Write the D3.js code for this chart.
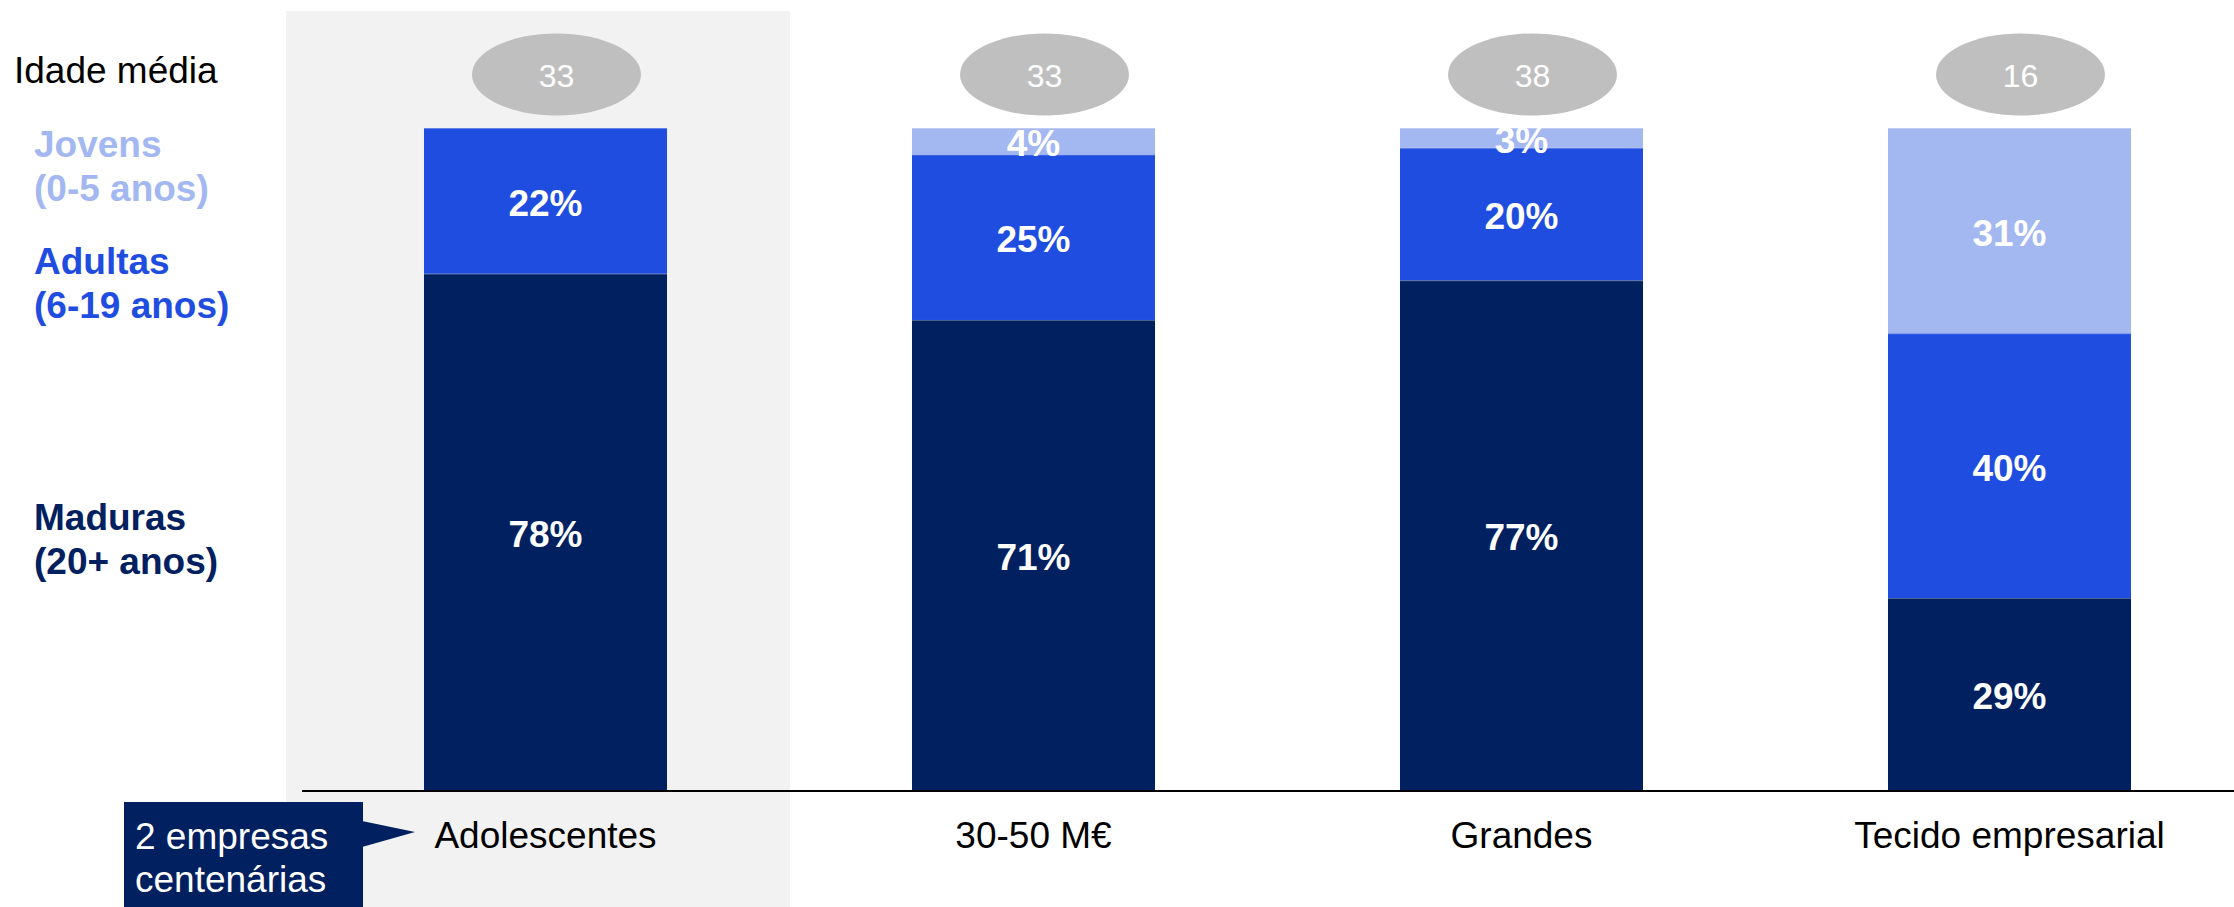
<!DOCTYPE html>
<html>
<head>
<meta charset="utf-8">
<script src="https://cdn.jsdelivr.net/npm/d3@7"></script>
<style>
  html, body { margin: 0; padding: 0; background: #ffffff; }
  svg { display: block; font-family: "Liberation Sans", Arial, sans-serif; }
</style>
</head>
<body>
<svg id="chart" width="2234" height="907"></svg>
<script>
// ---- data ----
const categories = ["Adolescentes", "30-50 M€", "Grandes", "Tecido empresarial"];
const maduras = [78, 71, 77, 29];   // 20+ anos
const adultas = [22, 25, 20, 40];   // 6-19 anos
const jovens  = [0, 4, 3, 31];      // 0-5 anos
const idadeMedia = [33, 33, 38, 16];
const seriesNames = ["Maduras", "Adultas", "Jovens"];
const seriesLabels = [
  ["Maduras", "(20+ anos)"],
  ["Adultas", "(6-19 anos)"],
  ["Jovens", "(0-5 anos)"]
];
const seriesColors = ["#002060", "#1f4ddf", "#a3b7f1"];
const highlightCategory = "Adolescentes";
const calloutLines = ["2 empresas", "centenárias"];
const ageTitle = "Idade média";

// ---- scales ----
const svg = d3.select("#chart");
const W = 2234, H = 907;

const x = d3.scaleBand()
  .domain(categories)
  .range([301.5, 2253.5])
  .paddingInner(0.502)
  .paddingOuter(0.251);

const y = d3.scaleLinear().domain([0, 100]).range([790, 128]);

const rows = categories.map((c, i) => ({
  cat: c, Maduras: maduras[i], Adultas: adultas[i], Jovens: jovens[i]
}));
const stack = d3.stack().keys(seriesNames)(rows);

// ---- highlight panel ----
svg.append("rect")
  .attr("x", x(highlightCategory) - 138)
  .attr("y", 11)
  .attr("width", x.bandwidth() + 138 + 123)
  .attr("height", H - 11)
  .attr("fill", "#f2f2f2");

// ---- bars ----
const layers = svg.append("g").selectAll("g")
  .data(stack)
  .join("g")
  .attr("fill", (d, i) => seriesColors[i]);

layers.selectAll("rect")
  .data(d => d.filter(s => s[1] - s[0] > 0))
  .join("rect")
  .attr("x", d => x(d.data.cat))
  .attr("y", d => y(d[1]))
  .attr("width", x.bandwidth())
  .attr("height", d => y(d[0]) - y(d[1]));

// thin light separators at segment tops
layers.selectAll("line")
  .data(d => d.filter(s => s[1] - s[0] > 0))
  .join("line")
  .attr("x1", d => x(d.data.cat))
  .attr("x2", d => x(d.data.cat) + x.bandwidth())
  .attr("y1", d => y(d[1]) + 0.5)
  .attr("y2", d => y(d[1]) + 0.5)
  .attr("stroke", "#ffffff")
  .attr("stroke-opacity", 0.3)
  .attr("stroke-width", 1);

// value labels
const labelG = svg.append("g");
stack.forEach(layer => {
  layer.filter(s => s[1] - s[0] > 0).forEach(s => {
    labelG.append("text")
      .attr("x", x(s.data.cat) + x.bandwidth() / 2)
      .attr("y", (y(s[0]) + y(s[1])) / 2 + 15)
      .attr("text-anchor", "middle")
      .attr("font-size", 37)
      .attr("font-weight", "bold")
      .attr("fill", "#ffffff")
      .text((s[1] - s[0]) + "%");
  });
});

// ---- axis baseline ----
svg.append("line")
  .attr("x1", 302).attr("x2", W)
  .attr("y1", y(0) + 1).attr("y2", y(0) + 1)
  .attr("stroke", "#000").attr("stroke-width", 2);

// category labels
svg.append("g").selectAll("text")
  .data(categories)
  .join("text")
  .attr("x", d => x(d) + x.bandwidth() / 2)
  .attr("y", 848)
  .attr("text-anchor", "middle")
  .attr("font-size", 37)
  .attr("fill", "#000")
  .text(d => d);

// ---- average age ellipses ----
const eg = svg.append("g").selectAll("g")
  .data(categories)
  .join("g")
  .attr("transform", d => `translate(${x(d) + x.bandwidth() / 2 + 11},74.5)`);
eg.append("ellipse").attr("rx", 84.5).attr("ry", 41).attr("fill", "#bfbfbf");
eg.append("text")
  .attr("y", 12.5)
  .attr("text-anchor", "middle")
  .attr("font-size", 32)
  .attr("fill", "#ffffff")
  .text((d, i) => idadeMedia[i]);

svg.append("text")
  .attr("x", 14).attr("y", 83)
  .attr("font-size", 37).attr("fill", "#000")
  .text(ageTitle);

// ---- left legend labels ----
const legendBaselines = [530, 274, 157];
seriesLabels.forEach((lines, i) => {
  const t = svg.append("text")
    .attr("x", 34).attr("y", legendBaselines[i])
    .attr("font-size", 37).attr("font-weight", "bold")
    .attr("fill", seriesColors[i]);
  lines.forEach((ln, j) => {
    t.append("tspan").attr("x", 34).attr("dy", j === 0 ? 0 : 44).text(ln);
  });
});

// ---- callout ----
const cg = svg.append("g");
cg.append("rect").attr("x", 124).attr("y", 802).attr("width", 239).attr("height", H - 802).attr("fill", "#002060");
cg.append("path").attr("d", "M362,821 L415,832 L362,847 Z").attr("fill", "#002060");
calloutLines.forEach((ln, j) => {
  cg.append("text")
    .attr("x", 135).attr("y", 849 + j * 43)
    .attr("font-size", 37).attr("fill", "#ffffff")
    .text(ln);
});
</script>
</body>
</html>
